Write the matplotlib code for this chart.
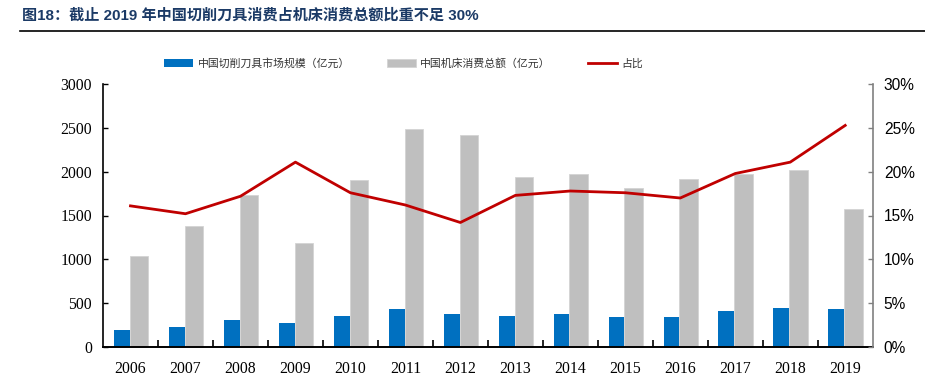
import numpy as np
import matplotlib
matplotlib.use('Agg')
import matplotlib.pyplot as plt
from matplotlib.ticker import FuncFormatter, FixedLocator

years = ['2006', '2007', '2008', '2009', '2010', '2011', '2012',
         '2013', '2014', '2015', '2016', '2017', '2018', '2019']
tool_market = [190, 220, 305, 270, 350, 428, 370, 350, 370, 336, 336, 409, 443, 428]
machine_total = [1035, 1380, 1730, 1185, 1910, 2490, 2425, 1945, 1978, 1812,
                 1920, 1978, 2020, 1573]
share = [16.1, 15.2, 17.2, 21.1, 17.6, 16.2, 14.2, 17.3, 17.8, 17.6,
         17.0, 19.8, 21.1, 25.3]

CJK = ['Noto Sans CJK SC', 'DejaVu Sans']
BLUE = '#0070C0'
GRAY = '#BFBFBF'
RED = '#C00000'

fig = plt.figure(figsize=(9.25, 3.78), dpi=100)

# title + rule
fig.text(22 / 925, 1 - 15 / 378, '图18：截止 2019 年中国切削刀具消费占机床消费总额比重不足 30%',
         family=['Liberation Sans', 'Noto Sans CJK SC'], fontweight='bold',
         fontsize=10.9, color='#1B3A66', va='center', ha='left')
fig.add_artist(plt.Line2D([20 / 925, 1.0], [1 - 31 / 378, 1 - 31 / 378],
                          color='black', lw=1.2, transform=fig.transFigure))

ax = fig.add_axes([103 / 925, 1 - 346.7 / 378, (872.7 - 103) / 925, (346.7 - 84.3) / 378])
x = np.arange(len(years))
ax.bar(x - 0.305, tool_market, width=0.29, align='edge', color=BLUE,
       label='中国切削刀具市场规模（亿元）', zorder=2)
ax.bar(x - 0.015, machine_total, width=0.335, align='edge', color=GRAY,
       edgecolor='#D4D4D4', linewidth=0.6, label='中国机床消费总额（亿元）', zorder=2)

ax.set_xlim(-0.5, len(years) - 0.5)
ax.set_ylim(0, 3000)
ax.set_yticks(range(0, 3001, 500))
ax.set_xticks(x)
ax.set_xticklabels(years)
# small tick marks sit between the year groups
ax.xaxis.set_minor_locator(FixedLocator(x[:-1] + 0.5))
ax.tick_params(axis='x', which='major', length=0, pad=10)
ax.tick_params(axis='x', which='minor', direction='in', length=5, width=1.2, color='black')
ax.tick_params(axis='y', direction='in', length=3.5, width=1, pad=8)
for lab in ax.get_xticklabels() + ax.get_yticklabels():
    lab.set_family('Liberation Serif')
    lab.set_fontsize(11.3)
ax.spines['top'].set_visible(False)
ax.spines['right'].set_visible(False)
ax.spines['left'].set_linewidth(1.2)
ax.spines['bottom'].set_linewidth(1.4)

ax2 = ax.twinx()
ax2.plot(x, share, color=RED, lw=2.0, label='占比', zorder=3)
ax2.set_ylim(0, 30)
ax2.set_yticks(range(0, 31, 5))
ax2.yaxis.set_major_formatter(FuncFormatter(lambda v, p: f'{v:.0f}%'))
ax2.tick_params(axis='y', direction='in', length=3.5, width=1, color='#808080', pad=8)
for lab in ax2.get_yticklabels():
    lab.set_family('Liberation Sans')
    lab.set_fontsize(11.2)
for s in ['top', 'left', 'bottom']:
    ax2.spines[s].set_visible(False)
ax2.spines['right'].set_color('#808080')
ax2.spines['right'].set_linewidth(1.2)

h1, l1 = ax.get_legend_handles_labels()
h2, l2 = ax2.get_legend_handles_labels()
fig.legend(h1 + h2, l1 + l2, loc='center left', bbox_to_anchor=(164 / 925, 1 - 63.5 / 378),
           ncol=3, frameon=False, borderpad=0, borderaxespad=0, handlelength=2.7,
           handletextpad=0.4, columnspacing=3.4, prop={'family': CJK, 'size': 7.8},
           labelcolor='#333333')

fig.savefig('out.png', dpi=100)
